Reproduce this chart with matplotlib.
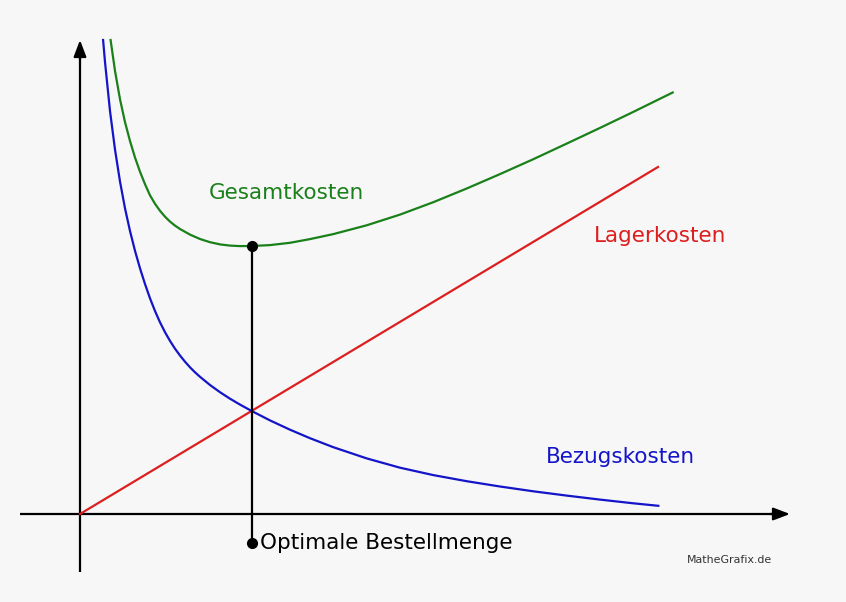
import matplotlib
matplotlib.use("Agg")
import matplotlib.pyplot as plt

# ---- data (arbitrary units, origin at axes cross) ----
lager_x = [0, 578]
lager_y = [0, 347]

bezug_x = [23.1, 25, 30, 35, 40, 45, 50, 55, 60, 65, 70, 75, 80, 85, 90, 95, 100,
           105, 110, 115, 120, 130, 140, 150, 160, 171.7, 190, 210, 230, 253.3,
           286.7, 320, 353.3, 386.7, 420, 453.3, 486.7, 520, 553.3, 578.3]
bezug_y = [474, 452, 403, 364.5, 332.5, 305.7, 283, 263.2, 245.7, 230, 215.7,
           203, 191.7, 181.8, 173.1, 165.3, 158.5, 152.3, 146.7, 141.7, 137.2,
           129, 121.8, 115.3, 109.4, 103, 93.6, 84.3, 75.8, 66.8, 55.6, 46.3,
           38.9, 32.8, 27.5, 22.7, 18.4, 14.4, 10.7, 8.2]

gesamt_x = [30.6, 35, 40, 45, 50, 55, 60, 65, 70, 75, 80, 85, 90, 95, 100, 110,
            120, 130, 140, 150, 160, 172, 190, 210, 230, 253.3, 286.7, 320,
            353.3, 386.7, 420, 453.3, 486.7, 520, 553.3, 592.7]
gesamt_y = [474, 443.1, 414.8, 391.9, 373, 356.5, 342.3, 329.8, 318.7, 310.2,
            303.2, 297.3, 292.4, 288.4, 285, 279.4, 275, 271.8, 269.6, 268.4,
            267.9, 268.0, 268.9, 271.2, 274.9, 279.9, 288.7, 299.4, 311.8,
            325.5, 339.9, 354.8, 370.4, 386.1, 402.1, 421.5]

opt_x = 172
opt_y = 268
opt_label_y = -29

labels = ["Gesamtkosten", "Lagerkosten", "Bezugskosten"]

BG = "#f7f7f7"
GREEN = "#1a801a"
RED = "#dc1e1e"
BLUE = "#1414c8"

fig = plt.figure(figsize=(8.46, 6.02), dpi=100, facecolor=BG)
ax = fig.add_axes([0, 0, 1, 1], facecolor=BG)
ax.set_xlim(-80, 766)
ax.set_ylim(-88, 514)
ax.axis("off")

# axes with arrows
ax.plot([-60, 700], [0, 0], color="black", lw=1.6, zorder=1, solid_capstyle="butt")
ax.plot([0, 0], [-58, 464], color="black", lw=1.6, zorder=1, solid_capstyle="butt")
ax.annotate("", xy=(710, 0), xytext=(690, 0),
            arrowprops=dict(arrowstyle="-|>,head_length=1.0,head_width=0.38",
                            color="black", lw=1.6, shrinkA=0, shrinkB=0))
ax.annotate("", xy=(0, 474), xytext=(0, 454),
            arrowprops=dict(arrowstyle="-|>,head_length=1.0,head_width=0.38",
                            color="black", lw=1.6, shrinkA=0, shrinkB=0))

# curves
ax.plot(lager_x, lager_y, color=RED, lw=1.6, zorder=3)
ax.plot(bezug_x, bezug_y, color=BLUE, lw=1.6, zorder=3, solid_joinstyle="round")
ax.plot(gesamt_x, gesamt_y, color=GREEN, lw=1.6, zorder=3, solid_joinstyle="round")

# optimum marker line
ax.plot([opt_x, opt_x], [opt_label_y, opt_y], color="black", lw=1.6, zorder=4)
ax.plot([opt_x, opt_x], [opt_label_y, opt_y], "o", color="black", ms=7, zorder=5)

fs = 15.5
ax.text(206, 321, labels[0], color=GREEN, fontsize=fs, ha="center", va="center")
ax.text(580, 278, labels[1], color=RED, fontsize=fs, ha="center", va="center")
ax.text(540, 57, labels[2], color=BLUE, fontsize=fs, ha="center", va="center")
ax.text(180, opt_label_y, "Optimale Bestellmenge", color="black", fontsize=fs,
        ha="left", va="center")
ax.text(650, -46, "MatheGrafix.de", color="#333333", fontsize=7.9,
        ha="center", va="center")

fig.savefig("out.png", dpi=100, facecolor=BG)
